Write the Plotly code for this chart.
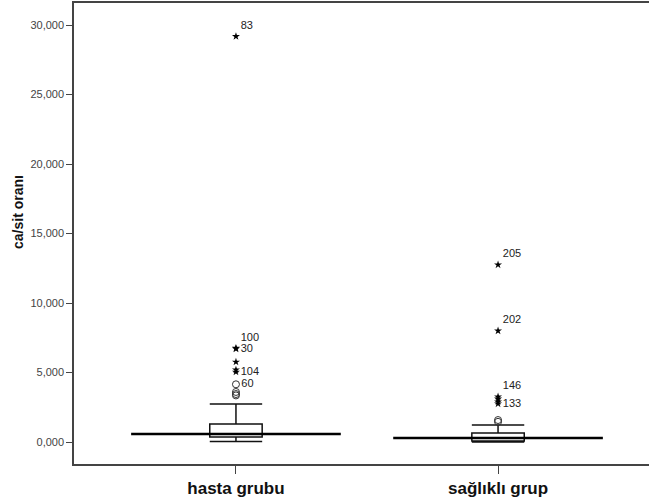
import plotly.graph_objects as go

groups = ["hasta grubu", "sağlıklı grup"]
q1 = [360, 70]
median = [580, 290]
q3 = [1300, 650]
lowerfence = [30, 0]
upperfence = [2740, 1225]

# outliers (circles) and extremes (stars)
out_hasta = [4150, 3600, 3450, 3350]
out_saglikli = [1580, 1450]
ext_hasta = [29180, 6750, 6700, 5760, 5190, 5040]
ext_hasta_lbl = ["83", "100", "30", "", "", "104"]
ext_saglikli = [12750, 8000, 3250, 3100, 2900, 2750]
ext_saglikli_lbl = ["205", "202", "146", "", "", "133"]
out_hasta_lbl = ["60", "", "", ""]

ytick_vals = [0, 5000, 10000, 15000, 20000, 25000, 30000]
ytick_text = ["0,000", "5,000", "10,000", "15,000", "20,000", "25,000", "30,000"]

FONT = "Arial, Liberation Sans"
fig = go.Figure()

for i in range(len(groups)):
    fig.add_trace(go.Box(
        x=[i], q1=[q1[i]], median=[median[i]], q3=[q3[i]],
        lowerfence=[lowerfence[i]], upperfence=[upperfence[i]],
        width=0.2, whiskerwidth=1, boxpoints=False,
        fillcolor="white", line=dict(color="#111111", width=1.5),
        showlegend=False, hoverinfo="skip"))
    fig.add_trace(go.Scatter(
        x=[i - 0.4, i + 0.4], y=[median[i], median[i]], mode="lines",
        line=dict(color="black", width=2.5), showlegend=False, hoverinfo="skip"))

def pos_for(lbls, top_set):
    return ["top right" if l in top_set else "middle right" for l in lbls]

top_labels = {"83", "100", "205", "202", "146"}
lblfont = dict(family=FONT, size=11, color="#222")

fig.add_trace(go.Scatter(
    x=[0] * len(out_hasta), y=out_hasta, mode="markers+text",
    text=out_hasta_lbl, textposition="middle right", textfont=lblfont,
    marker=dict(symbol="circle-open", size=7, color="#333", line=dict(width=1)),
    showlegend=False, cliponaxis=False))
fig.add_trace(go.Scatter(
    x=[1] * len(out_saglikli), y=out_saglikli, mode="markers",
    marker=dict(symbol="circle-open", size=7, color="#333", line=dict(width=1)),
    showlegend=False))
fig.add_trace(go.Scatter(
    x=[0] * len(ext_hasta), y=ext_hasta, mode="markers+text",
    text=ext_hasta_lbl, textposition=pos_for(ext_hasta_lbl, top_labels),
    textfont=lblfont, marker=dict(symbol="star", size=6, color="black"),
    showlegend=False, cliponaxis=False))
fig.add_trace(go.Scatter(
    x=[1] * len(ext_saglikli), y=ext_saglikli, mode="markers+text",
    text=ext_saglikli_lbl, textposition=pos_for(ext_saglikli_lbl, top_labels),
    textfont=lblfont, marker=dict(symbol="star", size=6, color="black"),
    showlegend=False, cliponaxis=False))

fig.update_layout(
    width=649, height=502,
    margin=dict(l=74, r=0, t=3, b=38),
    paper_bgcolor="white", plot_bgcolor="white",
    font=dict(family=FONT, color="#333"),
    xaxis=dict(range=[-0.618, 1.576], tickvals=[0, 1], ticktext=groups,
               showgrid=False, zeroline=False, showline=True, mirror=True,
               linecolor="#444", linewidth=1.5, ticks="outside", ticklen=8,
               tickcolor="#444",
               tickfont=dict(family=FONT, size=17, color="#111", weight="bold")),
    yaxis=dict(range=[-1583, 31583], tickvals=ytick_vals, ticktext=ytick_text,
               showgrid=False, zeroline=False, showline=True, mirror=False,
               linecolor="#444", linewidth=1.5, ticks="outside", ticklen=6,
               tickcolor="#444",
               tickfont=dict(family=FONT, size=11, color="#444")),
    annotations=[dict(text="ca/sit oranı", xref="paper", yref="paper",
                      x=(18 - 74) / 575, y=(464 - 212) / 461,
                      xanchor="center", yanchor="middle", textangle=-90,
                      showarrow=False,
                      font=dict(family=FONT, size=14, color="#111", weight="bold"))],
)

fig.write_html("out.html")
